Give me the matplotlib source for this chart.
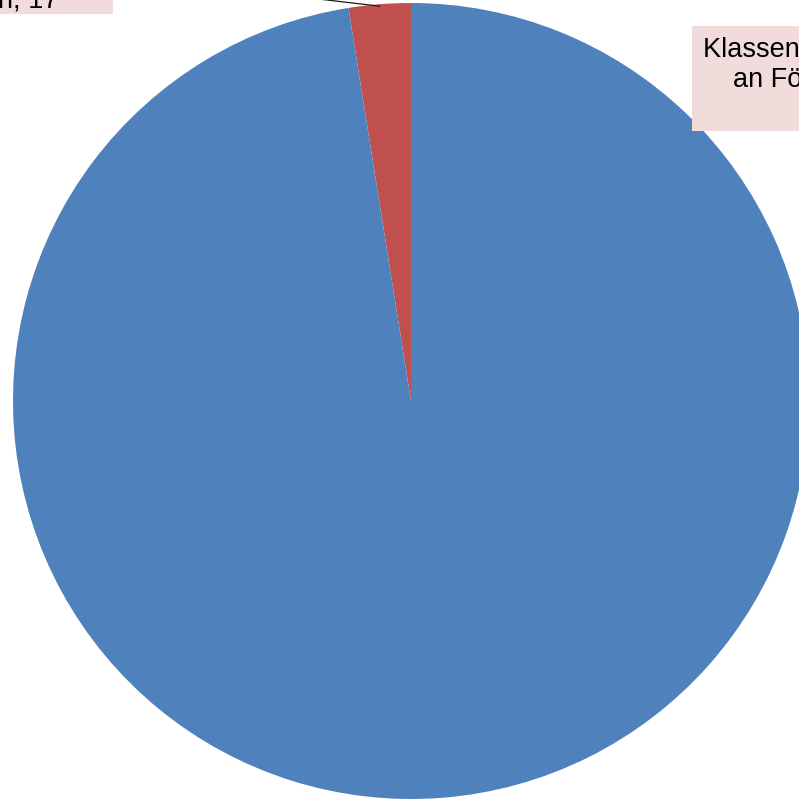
import numpy as np
import matplotlib
matplotlib.use("Agg")
import matplotlib.pyplot as plt

# Data (red wedge ~9 degrees)
categories = ["Inklusionsklassen an\nallgemeinen\nSchulen", "Klassen ohne Inklusion\nan Förderschulen"]
values = [17, 660]
colors = ["#c0504d", "#4f81bd"]

W, H = 799, 803
CX, CY, R = 411, 402, 398  # pie centre / radius in pixels


def px(x, y):
    """pixel position (from top-left) -> data coords of the pie axes"""
    return (x - CX) / R, (CY - y) / R


fig = plt.figure(figsize=(W / 100, H / 100), dpi=100)
fig.patch.set_facecolor("white")
ax = fig.add_axes([0, 0, 1, 1])

wedges, _ = ax.pie(values, colors=colors, startangle=90, counterclock=True,
                   radius=1, center=(0, 0), wedgeprops=dict(linewidth=0))

ax.set_xlim(px(0, 0)[0], px(W, 0)[0])
ax.set_ylim(px(0, H)[1], px(0, 0)[1])
ax.set_aspect("equal")
ax.axis("off")

font = dict(family="Liberation Sans", fontsize=19.5, color="black")

# red slice label, leader line to wedge middle
w = wedges[0]
mid = np.deg2rad((w.theta1 + w.theta2) / 2)
ex, ey = 0.995 * np.cos(mid), 0.995 * np.sin(mid)
lx, ly = px(200, -14)
ax.plot([ex, lx], [ey, ly], color="#1a1a1a", lw=0.9, clip_on=False, zorder=5)
tx, ty = px(112, 14)
ax.text(tx, ty, f"{categories[0]}, {values[0]}", ha="right", va="bottom",
        multialignment="center", linespacing=1.13,
        bbox=dict(boxstyle="square,pad=0.05", facecolor="#f2dcdb", edgecolor="none"),
        **font)

# blue slice label
tx, ty = px(703, 37.5)
ax.text(tx, ty, f"{categories[1]},\n{values[1]}", ha="left", va="top",
        multialignment="center", linespacing=1.13,
        bbox=dict(boxstyle="square,pad=0.4", facecolor="#f2dcdb", edgecolor="none"),
        **font)

fig.savefig("out.png", dpi=100, facecolor=fig.get_facecolor())
plt.close(fig)
